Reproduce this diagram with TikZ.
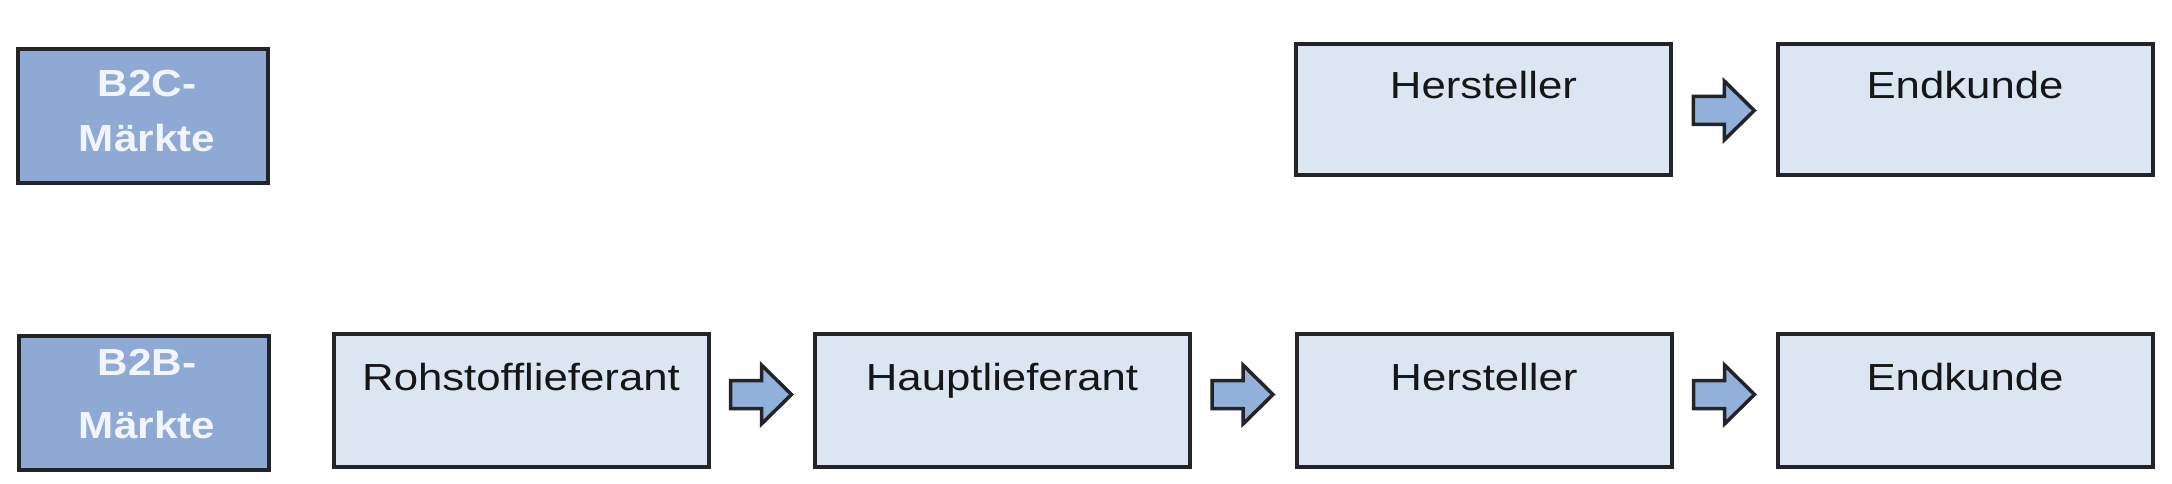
\documentclass[tikz,border=0pt]{standalone}
\usepackage{fontspec}
\usetikzlibrary{calc}
\newfontfamily\labfont[FakeStretch=1.16]{Liberation Sans}
\newfontfamily\mktfont[FakeStretch=1.12]{Liberation Sans}
\definecolor{lightfill}{RGB}{220,230,242}
\definecolor{darkfill}{RGB}{142,170,212}
\definecolor{edge}{RGB}{36,36,40}
\definecolor{arrowfill}{RGB}{146,177,218}
\definecolor{ink}{RGB}{22,22,22}
\definecolor{paleink}{RGB}{242,246,252}
\newcommand\flowarrow[4]{%
  \coordinate (#3) at ($($(#1.east)!0.5!(#2.west)$)+(0,#4)$);
  \draw[flowstyle] ($(#3)+(-31,-14)$) -- ($(#3)+(0,-14)$) -- ($(#3)+(0,-29.5)$)
    -- ($(#3)+(30,0)$) -- ($(#3)+(0,29.5)$) -- ($(#3)+(0,14)$) -- ($(#3)+(-31,14)$) -- cycle;}
\begin{document}
\begin{tikzpicture}[x=1pt,y=-1pt,
  stage/.style={draw=edge, line width=4pt, fill=lightfill, rectangle, inner sep=0pt, outer sep=0pt,
    minimum width=375pt, minimum height=131pt, text height=55pt, text depth=76pt,
    font=\labfont\fontsize{37.7pt}{40pt}\selectfont, text=ink},
  market/.style={draw=edge, line width=4pt, fill=darkfill, rectangle, inner sep=0pt, outer sep=0pt,
    minimum width=250pt, minimum height=134pt},
  marketlabel/.style={anchor=base, inner sep=0pt, text=paleink,
    font=\mktfont\bfseries\fontsize{37.7pt}{40pt}\selectfont},
  flowstyle/.style={draw=edge, line width=3.5pt, fill=arrowfill, line join=miter}]
\useasboundingbox[fill=white] (0,0) rectangle (2172,484);
% B2C row
\node[market] (b2c) at (143,116.5) {};
\node[marketlabel] (b2cA) at (147,97) {B2C-};
\node[marketlabel] (b2cB) at (147,152) {Märkte};
\node[stage] (hT) at (1483.5,109.5) {Hersteller};
\node[stage] (eT) at (1965,109.5) {Endkunde};
\flowarrow{hT}{eT}{aT}{1}
% B2B row
\node[market] (b2b) at (143.5,403) {};
\node[marketlabel] (b2bA) at (147,375) {B2B-};
\node[marketlabel] (b2bB) at (147,438) {Märkte};
\node[stage, minimum height=133pt] (rB) at (521,400.5) {Rohstofflieferant};
\node[stage, minimum height=133pt] (pB) at (1002,400.5) {Hauptlieferant};
\node[stage, minimum height=133pt] (hB) at (1484,400.5) {Hersteller};
\node[stage, minimum height=133pt] (eB) at (1965,400.5) {Endkunde};
\flowarrow{rB}{pB}{a1}{-6}
\flowarrow{pB}{hB}{a2}{-6}
\flowarrow{hB}{eB}{a3}{-6}
\end{tikzpicture}
\end{document}
